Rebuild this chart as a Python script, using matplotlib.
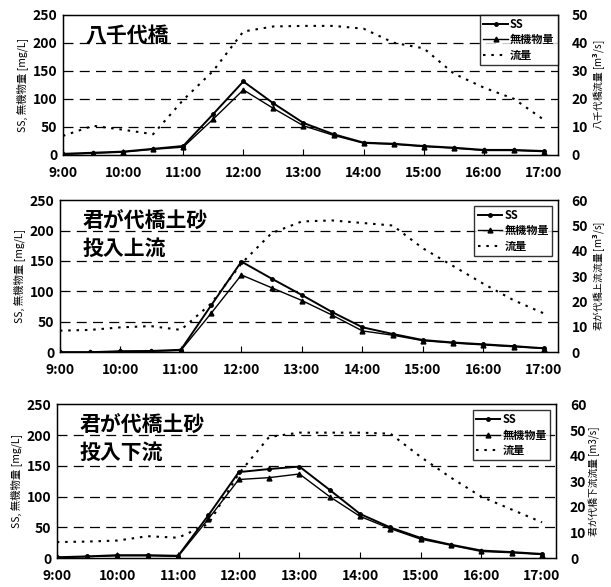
import matplotlib
matplotlib.use("Agg")
import matplotlib.pyplot as plt
from matplotlib.lines import Line2D

plt.rcParams['font.family'] = ['Noto Sans CJK JP', 'DejaVu Sans']
plt.rcParams['font.weight'] = 'bold'

# 30-minute sampling times
times = ["9:00", "9:30", "10:00", "10:30", "11:00", "11:30", "12:00", "12:30", "13:00",
         "13:30", "14:00", "14:30", "15:00", "15:30", "16:00", "16:30", "17:00"]
hour_labels = ["9:00", "10:00", "11:00", "12:00", "13:00", "14:00", "15:00", "16:00", "17:00"]

# 八千代橋
ss_yachiyo = [2, 4, 6, 11, 16, 73, 131, 92, 57, 37, 22, 20, 16, 13, 9, 9, 7]
inorg_yachiyo = [1, 3, 5, 10, 14, 64, 116, 83, 52, 35, 21, 19, 15, 12, 8, 8, 6]
flow_yachiyo = [6.8, 10.4, 9.0, 7.4, 19.6, 30, 44, 45.8, 46, 46, 45, 40, 38, 29, 24, 20, 12.5]

# 君が代橋 上流
ss_up = [0, 0, 1.6, 2, 4, 77, 149, 121, 94, 66, 41, 30, 20, 16, 13, 10, 6.5]
inorg_up = [0, 0, 1.2, 1.5, 3, 64, 127, 106, 85, 61, 35, 28, 19, 15, 12, 9, 6]
flow_up = [8.5, 8.8, 9.8, 10.3, 8.8, 19.2, 35, 47, 51.6, 52, 51, 50, 41, 34, 27, 20.5, 15.3]

# 君が代橋 下流
ss_down = [1.6, 3, 5, 5, 4, 70, 140, 145, 149, 111, 72, 50, 33, 22, 12.5, 10, 7]
inorg_down = [1, 2.5, 4, 4, 3, 64, 128, 131, 137, 100, 68, 48, 31, 21, 11, 9, 6]
flow_down = [6.3, 6.5, 6.9, 8.6, 8.0, 13.4, 33, 47.3, 49, 49, 49, 48.6, 39.5, 31.4, 24, 19, 14]

panels = [
    ("八千代橋", ss_yachiyo, inorg_yachiyo, flow_yachiyo, 50, "八千代橋流量 [m$^3$/s]", 0.0),
    ("君が代橋土砂\n投入上流", ss_up, inorg_up, flow_up, 60, "君が代橋上流流量 [m$^3$/s]", 0.5),
    ("君が代橋土砂\n投入下流", ss_down, inorg_down, flow_down, 60, "君が代橋下流流量 [m3/s]", 0.5),
]

# axes boxes in figure fractions [left, bottom, width, height]
boxes = [
    [0.103, 0.736, 0.810, 0.239],
    [0.098, 0.400, 0.815, 0.259],
    [0.093, 0.049, 0.817, 0.262],
]


def to_hours(t):
    h, m = t.split(":")
    return int(h) + int(m) / 60.0


x = [to_hours(t) for t in times]
xticks = [to_hours(t) for t in hour_labels]

fig = plt.figure(figsize=(6.11, 5.87), dpi=100)

for (title, ss, inorg, flow, fmax, rlabel, legpad), box in zip(panels, boxes):
    ax = fig.add_axes(box)
    ax2 = ax.twinx()

    for yv in [50, 100, 150, 200]:
        ax.axhline(yv, color="black", linestyle=(0, (8, 5)), linewidth=0.9, zorder=0)

    l1, = ax.plot(x, ss, color="black", linewidth=1.4, marker="o", markersize=2.5, zorder=3)
    l2, = ax.plot(x, inorg, color="black", linewidth=1.0, marker="^", markersize=3.5, zorder=3)
    l3, = ax2.plot(x, flow, color="black", linestyle=(0, (1.2, 2.8)), linewidth=1.5)

    ax.set_xlim(9, 17.23)
    ax.set_ylim(0, 250)
    ax2.set_ylim(0, fmax)
    ax.set_yticks([0, 50, 100, 150, 200, 250])
    ax2.set_yticks(range(0, fmax + 1, 10))
    ax.set_xticks(xticks)
    ax.set_xticklabels(hour_labels)
    ax.tick_params(axis="x", direction="in", length=4, labelsize=10, pad=8)
    ax.tick_params(axis="y", length=0, labelsize=10, pad=4)
    ax2.tick_params(axis="y", length=0, labelsize=10, pad=10)

    ax.set_ylabel("SS, 無機物量 [mg/L]", fontsize=7.5, labelpad=3)
    ax2.set_ylabel(rlabel, fontsize=7, labelpad=2)

    ax.text(0.045, 0.93, title, transform=ax.transAxes, fontsize=15,
            va="top", ha="left", linespacing=1.35, fontweight="bold")

    handles = [
        Line2D([], [], color="black", linewidth=1.4, marker="o", markersize=2.5),
        Line2D([], [], color="black", linewidth=1.0, marker="^", markersize=3.5),
        Line2D([], [], color="black", linestyle=(0, (1.2, 2.8)), linewidth=1.5),
    ]
    leg = ax2.legend(handles, ["SS", "無機物量", "流量"], loc="upper right",
                     fontsize=8, frameon=True, fancybox=False, handlelength=2.2,
                     handletextpad=0.2, borderpad=0.3, labelspacing=0.2,
                     borderaxespad=legpad)
    leg.get_frame().set_edgecolor("black")
    leg.get_frame().set_linewidth(1.0)

    for sp in ax.spines.values():
        sp.set_linewidth(1.0)

fig.savefig("out.png", dpi=100)
